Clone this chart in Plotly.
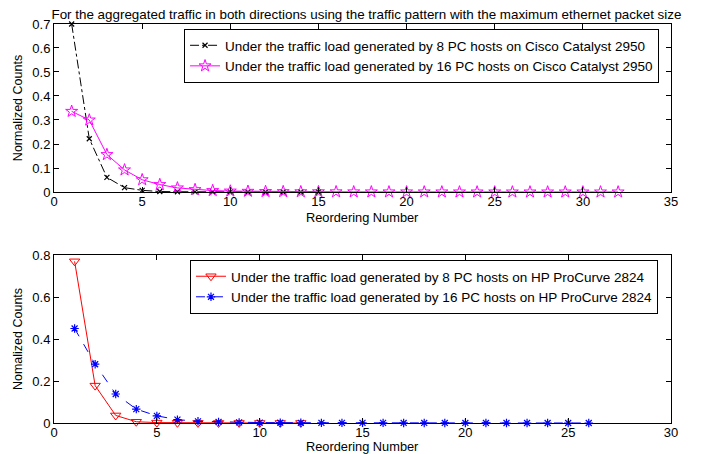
import plotly.graph_objects as go

# --- Data ---
# Top panel: Cisco Catalyst 2950
cisco_8_x = list(range(1, 16))
cisco_8_y = [0.70, 0.222, 0.061, 0.018, 0.007, 0.002, 0.001, 0.0006, 0.0004, 0.0003,
             0.0002, 0.0002, 0.0001, 0.0001, 0.0001]
cisco_16_x = list(range(1, 33))
cisco_16_y = [0.336, 0.30, 0.156, 0.092, 0.051, 0.031, 0.017, 0.010, 0.006, 0.004,
              0.003, 0.002, 0.0015, 0.001, 0.001, 0.0008, 0.0006, 0.0005, 0.0004, 0.0004,
              0.0003, 0.0003, 0.0002, 0.0002, 0.0002, 0.0001, 0.0001, 0.0001, 0.0001, 0.0001,
              0.0001, 0.0001]

# Bottom panel: HP ProCurve 2824
hp_8_x = list(range(1, 13))
hp_8_y = [0.77, 0.178, 0.036, 0.006, 0.002, 0.001, 0.0005, 0.0003, 0.0002, 0.0001,
          0.0001, 0.0001]
hp_16_x = list(range(1, 27))
hp_16_y = [0.45, 0.28, 0.138, 0.066, 0.034, 0.016, 0.008, 0.005, 0.003, 0.002,
           0.0015, 0.001, 0.0008, 0.0006, 0.0005, 0.0004, 0.0003, 0.0003, 0.0002, 0.0002,
           0.0002, 0.0001, 0.0001, 0.0001, 0.0001, 0.0001]

top_yticks = [0, 0.1, 0.2, 0.3, 0.4, 0.5, 0.6, 0.7]
top_xticks = [0, 5, 10, 15, 20, 25, 30, 35]
bot_yticks = [0, 0.2, 0.4, 0.6, 0.8]
bot_xticks = [0, 5, 10, 15, 20, 25, 30]

FONT = "Liberation Sans, Arial, Helvetica, sans-serif"

fig = go.Figure()

# --- Top panel traces ---
fig.add_trace(go.Scatter(
    x=cisco_8_x, y=cisco_8_y, mode="lines+markers", cliponaxis=False,
    name="Under the traffic load generated by 8 PC hosts on Cisco Catalyst 2950",
    line=dict(color="black", width=1, dash="dashdot"),
    marker=dict(symbol="x-thin-open", size=5, color="black", line=dict(color="black", width=1.2)),
    xaxis="x", yaxis="y", legend="legend"
))
fig.add_trace(go.Scatter(
    x=cisco_16_x, y=cisco_16_y, mode="lines+markers", cliponaxis=False,
    name="Under the traffic load generated by 16 PC hosts on Cisco Catalyst 2950",
    line=dict(color="#ff00ff", width=1),
    marker=dict(symbol="star-open", size=9, color="#ff00ff", line=dict(color="#ff00ff", width=1)),
    xaxis="x", yaxis="y", legend="legend"
))

# --- Bottom panel traces ---
fig.add_trace(go.Scatter(
    x=hp_8_x, y=hp_8_y, mode="lines+markers", cliponaxis=False,
    name="Under the traffic load generated by 8 PC hosts on HP ProCurve 2824",
    line=dict(color="red", width=1),
    marker=dict(symbol="triangle-down-open", size=9, color="red", line=dict(color="red", width=1)),
    xaxis="x2", yaxis="y2", legend="legend2"
))
fig.add_trace(go.Scatter(
    x=hp_16_x, y=hp_16_y, mode="lines+markers", cliponaxis=False,
    name="Under the traffic load generated by 16 PC hosts on HP ProCurve 2824",
    line=dict(color="blue", width=1, dash="dash"),
    marker=dict(symbol="asterisk-open", size=7, color="blue", line=dict(color="blue", width=1.2)),
    xaxis="x2", yaxis="y2", legend="legend2"
))

# page body has an 8px margin, so layout positions are shifted up/left by 8px
axis_style = dict(
    showline=True, linecolor="black", linewidth=1, mirror="ticks",
    ticks="inside", ticklen=5, tickcolor="black", showgrid=False, zeroline=False,
    tickfont=dict(size=13, color="black"), automargin=False,
)

fig.update_layout(
    width=707, height=454,
    paper_bgcolor="white", plot_bgcolor="white",
    font=dict(family=FONT, size=13, color="black"),
    margin=dict(l=0, r=0, t=0, b=0),
    title=dict(
        text="For the aggregated traffic in both directions using the traffic pattern with the maximum ethernet packet size",
        x=0.507, xanchor="center", y=0.9868, yanchor="middle",
        font=dict(size=13.4, color="black"),
    ),
    xaxis=dict(domain=[0.0651, 0.9378], range=[0, 35], tickvals=top_xticks,
               ticklabelstandoff=-3, anchor="y", **axis_style),
    yaxis=dict(domain=[0.5947, 0.9648], range=[0, 0.7], tickvals=top_yticks,
               title=dict(text="Normalized Counts", standoff=6, font=dict(size=12.5)),
               anchor="x", **axis_style),
    xaxis2=dict(domain=[0.0651, 0.9378], range=[0, 30], tickvals=bot_xticks,
                ticklabelstandoff=-3, anchor="y2", **axis_style),
    yaxis2=dict(domain=[0.0859, 0.4559], range=[0, 0.8], tickvals=bot_yticks,
                title=dict(text="Nomalized Counts", standoff=6, font=dict(size=12.5)),
                anchor="x2", **axis_style),
    legend=dict(x=0.249, y=0.9537, xanchor="left", yanchor="top",
                bgcolor="white", bordercolor="black", borderwidth=1,
                font=dict(size=13.5), itemwidth=30, tracegroupgap=0,
                yref="paper", xref="paper"),
    legend2=dict(x=0.2574, y=0.445, xanchor="left", yanchor="top",
                 bgcolor="white", bordercolor="black", borderwidth=1,
                 font=dict(size=13.5), itemwidth=30, tracegroupgap=0,
                 yref="paper", xref="paper"),
)

# x-axis titles placed just under the tick labels
for xr, yr, shift in [("x domain", "y domain", -25), ("x2 domain", "y2 domain", -23)]:
    fig.add_annotation(text="Reordering Number", xref=xr, yref=yr, x=0.5, y=0,
                       xanchor="center", yanchor="middle", yshift=shift,
                       showarrow=False, font=dict(size=12.8, color="black"))

fig.write_html("out.html")
